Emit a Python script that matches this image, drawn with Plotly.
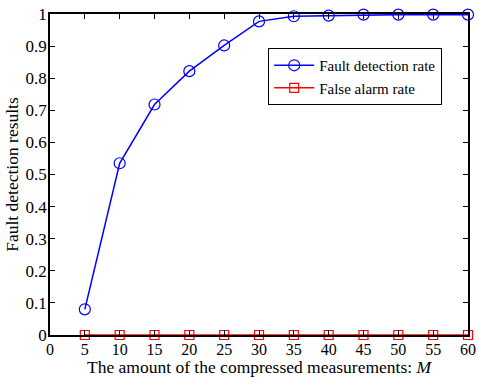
import plotly.graph_objects as go

M = [5, 10, 15, 20, 25, 30, 35, 40, 45, 50, 55, 60]
detection_rate = [0.08, 0.535, 0.718, 0.822, 0.902, 0.977, 0.993, 0.995, 0.998, 0.998, 0.998, 0.998]
false_alarm_rate = [0, 0, 0, 0, 0, 0, 0, 0, 0, 0, 0, 0]
x_ticks = [0, 5, 10, 15, 20, 25, 30, 35, 40, 45, 50, 55, 60]
y_ticks = [0, 0.1, 0.2, 0.3, 0.4, 0.5, 0.6, 0.7, 0.8, 0.9, 1]
y_tick_labels = ["0", "0.1", "0.2", "0.3", "0.4", "0.5", "0.6", "0.7", "0.8", "0.9", "1"]

fig = go.Figure()
fig.add_trace(go.Scatter(
    x=M, y=detection_rate, mode="lines+markers", name="Fault detection rate",
    line=dict(color="#0000FF", width=1.5),
    marker=dict(symbol="circle-open", size=11, color="#0000FF", line=dict(width=1.2)),
    cliponaxis=False,
))
fig.add_trace(go.Scatter(
    x=M, y=false_alarm_rate, mode="lines+markers", name="False alarm rate",
    line=dict(color="#FF0000", width=1.5),
    marker=dict(symbol="square-open", size=9, color="#FF0000", line=dict(width=1.2)),
    cliponaxis=False,
))

font_family = "Liberation Serif"
fig.update_layout(
    width=478, height=377,
    margin=dict(l=50, r=10, t=14, b=42, autoexpand=False),
    plot_bgcolor="white", paper_bgcolor="white",
    font=dict(family=font_family, size=17, color="black"),
    showlegend=True,
    legend=dict(
        x=0.522, y=0.894, xanchor="left", yanchor="top",
        bordercolor="black", borderwidth=1, bgcolor="white",
        font=dict(family=font_family, size=15, color="black"),
        tracegroupgap=0, itemwidth=40,
    ),
)
fig.update_xaxes(
    range=[0, 60], tickvals=x_ticks, ticktext=[str(v) for v in x_ticks],
    ticks="inside", ticklen=5, tickcolor="black", tickwidth=1,
    showline=True, linecolor="black", linewidth=1.5, mirror="ticks",
    showgrid=False, zeroline=False, automargin=False, ticklabelstandoff=-1,
    tickfont=dict(family=font_family, size=16),
    title=dict(text="The amount of the compressed measurements: <i>M</i>", standoff=3,
               font=dict(family=font_family, size=17.5)),
)
fig.update_yaxes(
    range=[0, 1], tickvals=y_ticks, ticktext=y_tick_labels,
    ticks="inside", ticklen=5, tickcolor="black", tickwidth=1,
    showline=True, linecolor="black", linewidth=1.5, mirror="ticks",
    showgrid=False, zeroline=False, automargin=False, ticklabelstandoff=-2,
    tickfont=dict(family=font_family, size=17),
    title=dict(text="Fault detection results", standoff=2,
               font=dict(family=font_family, size=17.5)),
)

fig.write_html("out.html")
